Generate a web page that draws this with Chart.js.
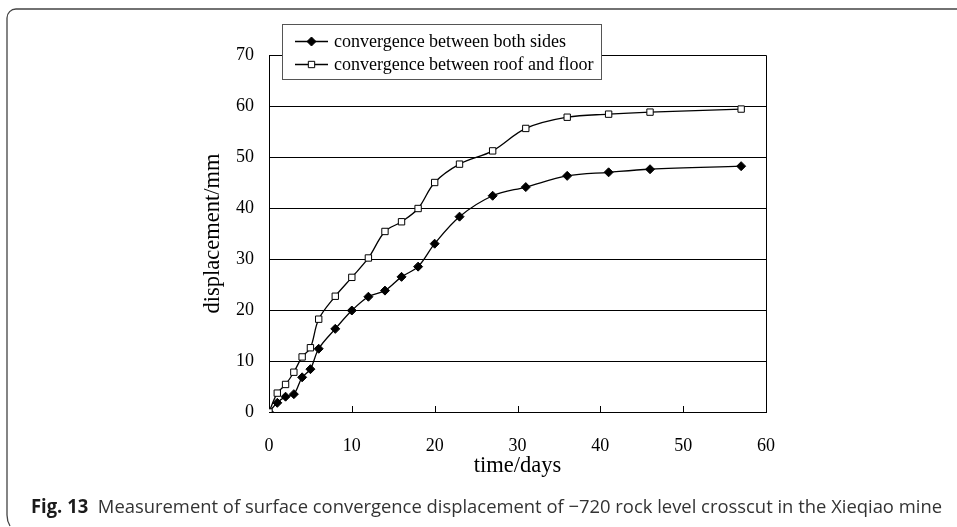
<!DOCTYPE html>
<html>
<head>
<meta charset="utf-8">
<script src="https://cdn.jsdelivr.net/npm/chart.js@4.4.0/dist/chart.umd.min.js"></script>
<style>
  html, body { margin: 0; padding: 0; background: #fff; }
  #wrap { position: relative; width: 957px; height: 527px; }
</style>
</head>
<body>
<div id="wrap"><canvas id="chart" width="957" height="527"></canvas></div>
<script>
// --- Measurement data ---
const days = [0, 1, 2, 3, 4, 5, 6, 8, 10, 12, 14, 16, 18, 20, 23, 27, 31, 36, 41, 46, 57];
const bothSides = [0, 1.8, 3.0, 3.5, 6.8, 8.4, 12.4, 16.3, 19.9, 22.6, 23.8, 26.5, 28.5, 33.0, 38.3, 42.4, 44.1, 46.3, 47.0, 47.6, 48.2];
const roofFloor = [0, 3.7, 5.4, 7.8, 10.8, 12.6, 18.2, 22.7, 26.4, 30.2, 35.4, 37.3, 39.9, 45.0, 48.6, 51.2, 55.6, 57.8, 58.4, 58.8, 59.4];
const seriesNames = ['convergence between both sides', 'convergence between roof and floor'];
const xTicks = [0, 10, 20, 30, 40, 50, 60];
const yTicks = [0, 10, 20, 30, 40, 50, 60, 70];

const captionLabel = 'Fig. 13';
const captionText = 'Measurement of surface convergence displacement of \u2212720 rock level crosscut in the Xieqiao mine';

const SERIF = '"Liberation Serif", "Times New Roman", serif';

function toPoints(xs, ys) {
    return xs.map((x, i) => ({ x: x, y: ys[i] }));
}

// Plot frame (top/right) and the small inward ticks on the time axis
const plotFrame = {
    id: 'plotFrame',
    beforeDatasetsDraw(chart) {
        const { ctx, chartArea: a, scales: { x } } = chart;
        ctx.save();
        ctx.strokeStyle = '#000';
        ctx.lineWidth = 1;
        ctx.beginPath();
        ctx.moveTo(Math.round(a.left) + 0.5, Math.round(a.top) + 0.5);
        ctx.lineTo(Math.round(a.right) + 0.5, Math.round(a.top) + 0.5);
        ctx.lineTo(Math.round(a.right) + 0.5, Math.round(a.bottom) + 0.5);
        ctx.stroke();
        ctx.beginPath();
        xTicks.slice(1, -1).forEach(v => {
            const px = Math.round(x.getPixelForValue(v)) + 0.5;
            ctx.moveTo(px, a.bottom);
            ctx.lineTo(px, a.bottom - 6);
        });
        ctx.stroke();
        ctx.restore();
    }
};

// Boxed legend sitting over the top edge of the plot
const boxedLegend = {
    id: 'boxedLegend',
    afterDraw(chart) {
        const ctx = chart.ctx;
        const box = { left: 282, top: 24, right: 601, bottom: 79 };
        ctx.save();
        ctx.fillStyle = '#fff';
        ctx.fillRect(box.left, box.top, box.right - box.left, box.bottom - box.top);
        ctx.strokeStyle = '#555';
        ctx.lineWidth = 1;
        ctx.strokeRect(box.left + 0.5, box.top + 0.5, box.right - box.left, box.bottom - box.top);

        chart.data.datasets.forEach((ds, i) => {
            const y = 41.5 + i * 23;
            ctx.strokeStyle = ds.borderColor;
            ctx.lineWidth = 1.3;
            ctx.beginPath();
            ctx.moveTo(295, y);
            ctx.lineTo(328, y);
            ctx.stroke();
            ctx.fillStyle = ds.pointBackgroundColor;
            ctx.strokeStyle = ds.pointBorderColor;
            ctx.lineWidth = 1;
            Chart.helpers.drawPoint(ctx, {
                pointStyle: ds.pointStyle, radius: ds.pointRadius, rotation: 0, borderWidth: 1
            }, 311.5, y);
            ctx.fillStyle = '#000';
            ctx.font = '18px ' + SERIF;
            ctx.textBaseline = 'middle';
            ctx.textAlign = 'left';
            ctx.fillText(ds.label, 334, y + 1);
        });
        ctx.restore();
    }
};

// Outer figure frame and caption line
const figureFrame = {
    id: 'figureFrame',
    afterDraw(chart) {
        const ctx = chart.ctx;
        ctx.save();
        ctx.strokeStyle = '#444';
        ctx.lineWidth = 1.3;
        ctx.beginPath();
        ctx.moveTo(957, 9);
        ctx.lineTo(16, 9);
        ctx.arcTo(7, 9, 7, 18, 9);
        ctx.lineTo(7, 515);
        ctx.quadraticCurveTo(7, 521, 10, 526);
        ctx.stroke();

        const boldFont = 'bold 19px "Open Sans", "Noto Sans", sans-serif';
        const plainFont = '19px "Open Sans", "Noto Sans", sans-serif';
        ctx.font = boldFont;
        const w1 = ctx.measureText(captionLabel).width;
        ctx.font = plainFont;
        const gap = 10;
        const w2 = ctx.measureText(captionText).width;
        const target = 911;
        const sx = target / (w1 + gap + w2);
        ctx.translate(31, 513);
        ctx.scale(sx, 1);
        ctx.textBaseline = 'alphabetic';
        ctx.textAlign = 'left';
        ctx.font = boldFont;
        ctx.fillStyle = '#1a1a1a';
        ctx.fillText(captionLabel, 0, 0);
        ctx.font = plainFont;
        ctx.fillStyle = '#333';
        ctx.fillText(captionText, w1 + gap, 0);
        ctx.restore();
    }
};

const ctx = document.getElementById('chart').getContext('2d');
new Chart(ctx, {
    type: 'line',
    data: {
        datasets: [
            {
                label: seriesNames[0],
                data: toPoints(days, bothSides),
                borderColor: '#000',
                borderWidth: 1.3,
                tension: 0.35,
                pointStyle: 'rectRot',
                pointRadius: 4.5,
                pointBackgroundColor: '#000',
                pointBorderColor: '#000',
                pointBorderWidth: 1,
                order: 1
            },
            {
                label: seriesNames[1],
                data: toPoints(days, roofFloor),
                borderColor: '#000',
                borderWidth: 1.3,
                tension: 0.35,
                pointStyle: 'rect',
                pointRadius: 4.5,
                pointBackgroundColor: '#fff',
                pointBorderColor: '#000',
                pointBorderWidth: 1,
                order: 0
            }
        ]
    },
    options: {
        responsive: false,
        animation: false,
        devicePixelRatio: 1,
        layout: { padding: { left: 0, top: 55, right: 191, bottom: 45 } },
        plugins: {
            legend: { display: false },
            tooltip: { enabled: false }
        },
        scales: {
            x: {
                type: 'linear',
                min: xTicks[0],
                max: xTicks[xTicks.length - 1],
                afterFit(scale) { scale.height = 70; },
                afterBuildTicks(scale) { scale.ticks = xTicks.map(v => ({ value: v })); },
                grid: { display: false, drawTicks: false },
                border: { display: true, color: '#000', width: 1 },
                ticks: { color: '#000', padding: 23, font: { family: SERIF, size: 18 } },
                title: {
                    display: true,
                    text: 'time/days',
                    color: '#000',
                    font: { family: SERIF, size: 22.5 },
                    padding: { top: 0, bottom: 2.5 }
                }
            },
            y: {
                min: yTicks[0],
                max: yTicks[yTicks.length - 1],
                afterFit(scale) { scale.width = 269; },
                afterBuildTicks(scale) { scale.ticks = yTicks.map(v => ({ value: v })); },
                grid: { color: '#000', lineWidth: 1, drawTicks: false },
                border: { display: true, color: '#000', width: 1 },
                ticks: { color: '#000', padding: 15, font: { family: SERIF, size: 18 } },
                title: {
                    display: true,
                    text: 'displacement/mm',
                    color: '#000',
                    font: { family: SERIF, size: 22.5 },
                    padding: { top: 199.5, bottom: 0 }
                }
            }
        }
    },
    plugins: [plotFrame, boxedLegend, figureFrame]
});
</script>
</body>
</html>
